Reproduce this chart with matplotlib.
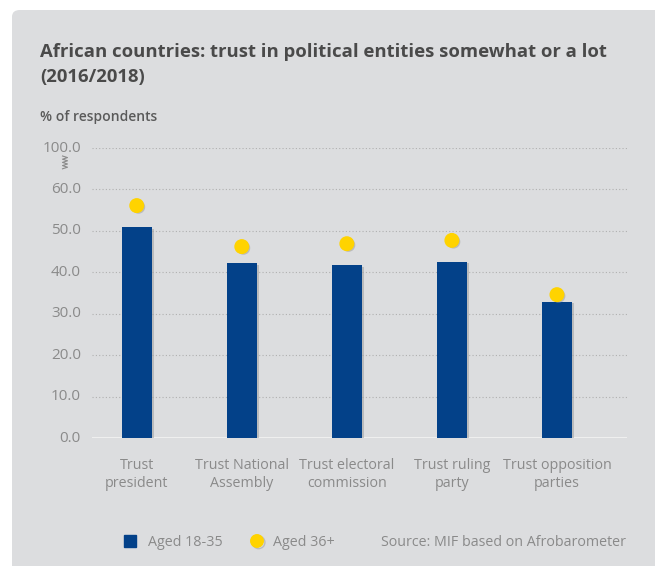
import matplotlib
matplotlib.use("Agg")
import matplotlib.pyplot as plt
import matplotlib.patheffects as pe
from matplotlib.patches import FancyBboxPatch
from matplotlib.lines import Line2D

categories = ["Trust\npresident", "Trust National\nAssembly", "Trust electoral\ncommission",
              "Trust ruling\nparty", "Trust opposition\nparties"]
aged_18_35 = [50.9, 42.2, 41.7, 42.5, 32.9]
aged_36_plus = [56.1, 46.2, 46.9, 47.7, 34.6]
tick_values = [0, 10, 20, 30, 40, 50, 60, 70]
tick_labels = ["0.0", "10.0", "20.0", "30.0", "40.0", "50.0", "60.0", "100.0"]

plt.rcParams['font.family'] = ['Open Sans', 'DejaVu Sans']

W, H = 655, 566
fig = plt.figure(figsize=(W / 100, H / 100), dpi=100)
fig.patch.set_facecolor("white")
bg = "#dcdddf"
card = FancyBboxPatch((12 / W, -0.05), 1.2, (H - 10) / H + 0.05,
                      boxstyle="round,pad=0,rounding_size=0.012",
                      transform=fig.transFigure, facecolor=bg, edgecolor="none", zorder=-10)
fig.patches.append(card)

ax = fig.add_axes([92 / W, 1 - 438 / H, (627 - 92) / W, (438 - 148) / H])
ax.set_zorder(5)
ax.set_facecolor("none")
x = list(range(len(categories)))
bars = ax.bar(x, aged_18_35, width=0.29, color="#034189", zorder=3)
for b in bars:
    b.set_path_effects([pe.SimplePatchShadow(offset=(1.5, -1), shadow_rgbFace="#9a9a9a", alpha=0.5), pe.Normal()])
ax.scatter(x, aged_36_plus, s=95, color="#ffd300", zorder=4,
           path_effects=[pe.SimplePatchShadow(offset=(1.2, -1), shadow_rgbFace="#9a9a9a", alpha=0.5), pe.Normal()])

ax.set_xlim(-0.426, 4.667)
ax.set_ylim(0, 70)
for v in tick_values[1:]:
    ax.axhline(v, color="#b0b0b0", lw=0.8, ls=(0, (1, 2)), zorder=1)
ax.axhline(0, color="#f2f2f2", lw=2, zorder=2)
for s in ax.spines.values():
    s.set_visible(False)
ax.set_yticks(tick_values)
ax.set_yticklabels(tick_labels)
ax.tick_params(axis="y", length=0, pad=8, labelsize=11, labelcolor="#8a8a8a")
ax.set_xticks(x)
ax.set_xticklabels(categories, linespacing=1.3)
ax.tick_params(axis="x", length=0, pad=14.5, labelsize=10.3, labelcolor="#8a8a8a")
for lab in ax.get_yticklabels():
    lab.set_verticalalignment("center")

# axis break symbol
zx, zy = 65, 156
pts_x, pts_y = [], []
for i in range(9):
    pts_x.append((zx + (-2.5 if i % 2 == 0 else 2.5)) / W)
    pts_y.append(1 - (zy + i * 1.6) / H)
fig.add_artist(Line2D(pts_x, pts_y, color="#8a8a8a", lw=0.8, transform=fig.transFigure))

fig.text(40 / W, 1 - 52 / H, "African countries: trust in political entities somewhat or a lot",
         fontsize=13.3, fontweight="bold", color="#4a4a4a", va="center", ha="left")
fig.text(40 / W, 1 - 77 / H, "(2016/2018)",
         fontsize=13.3, fontweight="bold", color="#4a4a4a", va="center", ha="left")
fig.text(40 / W, 1 - 117 / H, "% of respondents", fontsize=10, fontweight="semibold",
         color="#5a5a5a", va="center", ha="left")

# legend
ly = 1 - 541 / H
fig.add_artist(Line2D([130 / W], [ly], marker="s", markersize=8, color="#034189", ls="none",
                      transform=fig.transFigure))
fig.text(148 / W, ly, "Aged 18-35", fontsize=10.3, color="#8a8a8a", va="center_baseline", ha="left")
fig.add_artist(Line2D([257 / W], [ly], marker="o", markersize=9, color="#ffd300", ls="none",
                      transform=fig.transFigure,
                      path_effects=[pe.SimpleLineShadow(offset=(1.2, -1), shadow_color="#9a9a9a", alpha=0.5), pe.Normal()]))
fig.text(273 / W, ly, "Aged 36+", fontsize=10.3, color="#8a8a8a", va="center_baseline", ha="left")
fig.text(626 / W, ly, "Source: MIF based on Afrobarometer", fontsize=10.3, color="#8a8a8a",
         va="center_baseline", ha="right")

fig.savefig("out.png", dpi=100, facecolor=fig.get_facecolor())
